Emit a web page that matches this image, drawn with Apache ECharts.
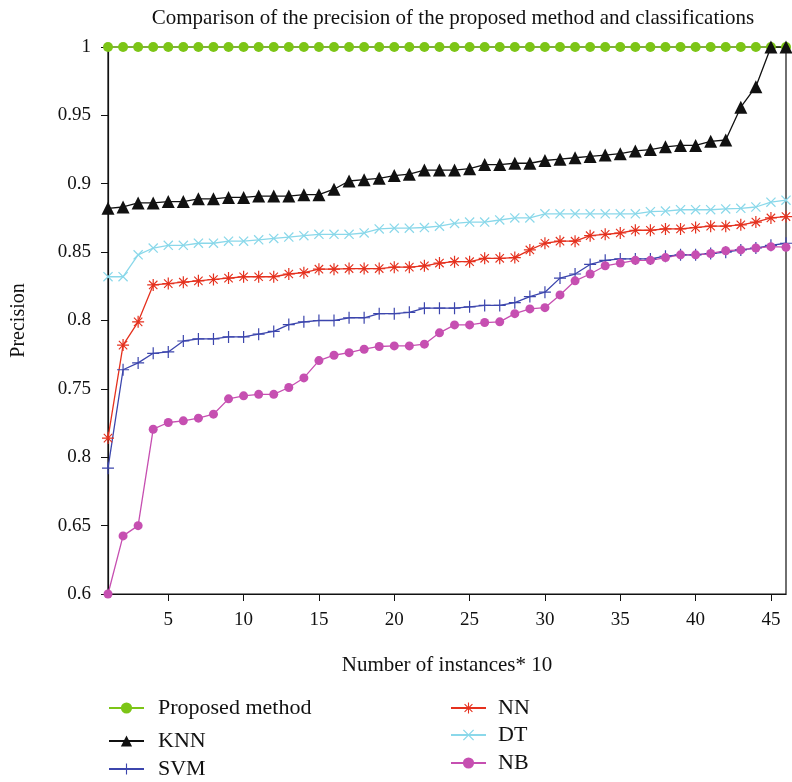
<!DOCTYPE html>
<html>
<head>
<meta charset="utf-8">
<script src="https://cdn.jsdelivr.net/npm/echarts@6/dist/echarts.min.js"></script>
<style>
  html, body { margin: 0; padding: 0; background: #ffffff; }
  #chart { width: 792px; height: 782px; }
</style>
</head>
<body>
<div id="chart"></div>
<script>
// Number of instances (x10)
const instances = [1,2,3,4,5,6,7,8,9,10,11,12,13,14,15,16,17,18,19,20,21,22,23,
  24,25,26,27,28,29,30,31,32,33,34,35,36,37,38,39,40,41,42,43,44,45,46];

// Precision of each method
const proposed = [1,1,1,1,1,1,1,1,1,1,1,1,1,1,1,1,1,1,1,1,1,1,1,
  1,1,1,1,1,1,1,1,1,1,1,1,1,1,1,1,1,1,1,1,1,1,1];
const knn = [0.882,0.883,0.886,0.886,0.887,0.887,0.889,0.889,0.890,0.890,0.891,0.891,0.891,0.892,0.892,
  0.896,0.902,0.903,0.904,0.906,0.907,0.910,0.910,0.910,0.911,0.914,0.914,0.915,0.915,
  0.917,0.918,0.919,0.920,0.921,0.922,0.924,0.925,0.927,0.928,0.928,0.931,0.932,0.956,0.971,1.0,1.0];
const svm = [0.692,0.764,0.769,0.776,0.777,0.785,0.7865,0.7865,0.788,0.788,0.790,0.792,0.797,0.799,0.800,0.800,
  0.802,0.802,0.805,0.805,0.806,0.809,0.809,0.809,0.810,0.811,0.811,0.813,0.8175,0.8207,0.831,
  0.834,0.841,0.844,0.845,0.845,0.845,0.847,0.848,0.848,0.849,0.850,0.8516,0.853,0.855,0.8565];
const nn = [0.714,0.782,0.799,0.826,0.827,0.828,0.829,0.830,0.831,0.832,0.832,0.832,0.834,0.835,0.8375,0.8375,
  0.838,0.838,0.838,0.839,0.839,0.840,0.842,0.843,0.843,0.8455,0.8455,0.846,0.8516,0.8565,0.858,
  0.858,0.862,0.863,0.864,0.866,0.866,0.867,0.867,0.868,0.869,0.869,0.870,0.872,0.875,0.876];
const dt = [0.832,0.832,0.848,0.853,0.855,0.855,0.8565,0.8565,0.858,0.858,0.859,0.860,0.861,0.862,0.863,0.863,
  0.863,0.864,0.867,0.8675,0.8675,0.868,0.869,0.871,0.872,0.872,0.8735,0.875,0.875,0.878,0.878,
  0.878,0.878,0.878,0.878,0.878,0.8796,0.880,0.881,0.881,0.881,0.8816,0.882,0.883,0.8865,0.888];
const nb = [0.600,0.6425,0.650,0.7205,0.7254,0.7266,0.7286,0.7315,0.7427,0.7449,0.746,0.746,0.751,0.758,0.7707,0.7746,
  0.7765,0.779,0.781,0.7814,0.7814,0.7827,0.791,0.7968,0.7968,0.7985,0.799,0.805,0.8085,0.8094,0.8187,
  0.829,0.834,0.840,0.842,0.844,0.844,0.846,0.848,0.848,0.849,0.851,0.8516,0.853,0.854,0.8536];

// Axis tick labels
const xTicks = [5,10,15,20,25,30,35,40,45];
const yTickLabels = ['0.6','0.65','0.8','0.75','0.8','0.85','0.9','0.95','1'];

const FONT = '"Liberation Serif", "DejaVu Serif", serif';

// Marker shapes drawn as filled outlines
const PLUS = 'path://M-0.6,-6L0.6,-6L0.6,6L-0.6,6Z M-6,-0.6L6,-0.6L6,0.6L-6,0.6Z';
const CROSS = 'path://M-4.6,-3.8L-3.8,-4.6L4.6,3.8L3.8,4.6Z M3.8,-4.6L4.6,-3.8L-3.8,4.6L-4.6,3.8Z';
const STAR = 'path://M-0.6,-6L0.6,-6L0.6,6L-0.6,6Z M-6,-0.6L6,-0.6L6,0.6L-6,0.6Z ' +
             'M-4.6,-3.8L-3.8,-4.6L4.6,3.8L3.8,4.6Z M3.8,-4.6L4.6,-3.8L-3.8,4.6L-4.6,3.8Z';

function pairs(values) {
  return instances.map((x, i) => [x, values[i]]);
}

function lineSeries(name, values, color, symbol, size) {
  return {
    name: name,
    type: 'line',
    data: pairs(values),
    symbol: symbol,
    symbolSize: size,
    showAllSymbol: true,
    lineStyle: { color: color, width: 1.3 },
    itemStyle: { color: color, borderWidth: 0 },
    emphasis: { disabled: true },
    animation: false
  };
}

function legendAt(name, left, top, textPad) {
  return {
    data: [name],
    left: left,
    top: top,
    padding: 0,
    itemWidth: 35,
    itemHeight: 14,
    itemGap: 0,
    textStyle: {
      fontFamily: FONT, fontSize: 22, lineHeight: 24, color: '#111',
      padding: [0, 0, 0, textPad]
    }
  };
}

const chart = echarts.init(document.getElementById('chart'), null, { renderer: 'canvas' });
chart.setOption({
  backgroundColor: '#ffffff',
  animation: false,
  title: {
    text: 'Comparison of the precision of the proposed method and classifications',
    left: 448,
    textAlign: 'center',
    top: 3,
    textStyle: { fontFamily: FONT, fontSize: 21, fontWeight: 'normal', color: '#111' }
  },
  grid: {
    left: 108, right: 6, top: 47, bottom: 188,
    show: true, borderColor: '#111', borderWidth: 1.2, backgroundColor: 'transparent'
  },
  legend: [
    legendAt('Proposed method', 108, 696, 9),
    legendAt('KNN', 108, 729, 9),
    legendAt('SVM', 108, 757, 9),
    legendAt('NN', 450, 696, 7),
    legendAt('DT', 450, 723, 7),
    legendAt('NB', 450, 751, 7)
  ],
  xAxis: {
    type: 'value',
    min: 1,
    max: 46,
    name: 'Number of instances* 10',
    nameLocation: 'middle',
    nameGap: 61,
    nameTextStyle: { fontFamily: FONT, fontSize: 21, color: '#111' },
    splitLine: { show: false },
    axisLine: { lineStyle: { color: '#111', width: 1.2 } },
    axisTick: { customValues: xTicks, length: 7, lineStyle: { color: '#111' } },
    axisLabel: {
      customValues: xTicks,
      fontFamily: FONT, fontSize: 19, color: '#111', margin: 17
    }
  },
  yAxis: {
    type: 'value',
    min: 0.6,
    max: 1,
    interval: 0.05,
    name: 'Precision',
    nameLocation: 'middle',
    nameGap: 79,
    nameTextStyle: { fontFamily: FONT, fontSize: 20, color: '#111' },
    splitLine: { show: false },
    axisLine: { lineStyle: { color: '#111', width: 1.2 } },
    axisTick: { length: 7, lineStyle: { color: '#111' } },
    axisLabel: {
      fontFamily: FONT, fontSize: 19, color: '#111', margin: 17,
      formatter: function (v) { return yTickLabels[Math.round((v - 0.6) / 0.05)]; }
    }
  },
  series: [
    lineSeries('Proposed method', proposed, '#7cc516', 'circle', 10),
    lineSeries('KNN', knn, '#111111', 'triangle', 13),
    lineSeries('SVM', svm, '#3c46ad', PLUS, 12),
    lineSeries('NN', nn, '#e5311e', STAR, 12),
    lineSeries('DT', dt, '#8ad8ea', CROSS, 10),
    lineSeries('NB', nb, '#c64fb1', 'circle', 9)
  ]
});
</script>
</body>
</html>
